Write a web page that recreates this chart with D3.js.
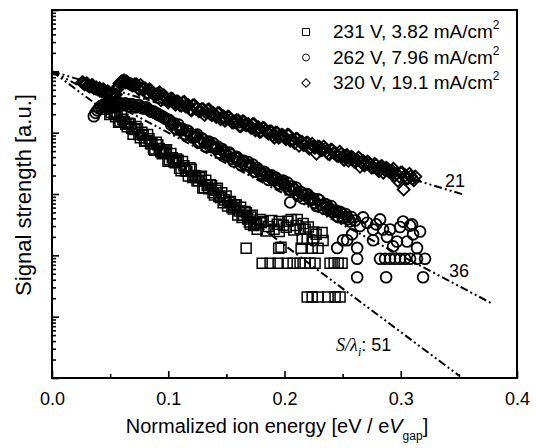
<!DOCTYPE html>
<html>
<head>
<meta charset="utf-8">
<script src="https://cdn.jsdelivr.net/npm/d3@7/dist/d3.min.js"></script>
<style>
	body { margin: 0; background: #fff; }
	svg { display: block; font-family: "Liberation Sans", Arial, sans-serif; }
</style>
</head>
<body>
<script>
// legend entries (order: square, circle, diamond)
var seriesLabels = ["231 V, 3.82 mA/cm", "262 V, 7.96 mA/cm", "320 V, 19.1 mA/cm"];
var xTicks = [0.0, 0.1, 0.2, 0.3, 0.4];
var xMinorTicks = [0.05, 0.15, 0.25, 0.35];
var yDecades = [1e-5, 1e-4, 1e-3, 1e-2, 1e-1, 1, 10];

// [normalized ion energy, signal strength a.u.]
var squares231 = [
	[0.0460,0.240],[0.0485,0.259],[0.0510,0.214],[0.0535,0.207],[0.0560,0.210],[0.0585,0.153],[0.0610,0.165],
	[0.0635,0.137],[0.0660,0.142],[0.0685,0.118],[0.0710,0.113],[0.0735,0.116],[0.0760,0.0829],[0.0785,0.0910],
	[0.0810,0.0740],[0.0835,0.0798],[0.0860,0.0661],[0.0885,0.0518],[0.0910,0.0637],[0.0935,0.0490],[0.0960,0.0481],
	[0.0985,0.0528],[0.1010,0.0362],[0.1035,0.0391],[0.1060,0.0324],[0.1085,0.0356],[0.1110,0.0240],[0.1135,0.0289],
	[0.1160,0.0236],[0.1185,0.0268],[0.1210,0.0185],[0.1235,0.0199],[0.1260,0.0165],[0.1285,0.0195],[0.1310,0.0127],
	[0.1335,0.0137],[0.1360,0.0142],[0.1385,0.0105],[0.1410,0.0115],[0.1435,0.00910],[0.1460,0.0105],[0.1485,0.00798],
	[0.1510,0.00637],[0.1535,0.00757],[0.1560,0.00569],[0.1585,0.00661],[0.1610,0.00528],[0.1635,0.00415],[0.1660,0.00518],
	[0.1685,0.00391],[0.1710,0.00421],[0.1735,0.00307],[0.1760,0.00331],
	[0.04725,0.28],[0.04975,0.198],[0.05225,0.256],[0.05475,0.181],[0.05725,0.148],[0.05975,0.192],[0.06225,0.151],
	[0.06475,0.125],[0.06725,0.138],[0.06975,0.094],[0.07225,0.126],[0.07475,0.093],[0.07725,0.102],[0.07975,0.0723],
	[0.08225,0.0935],[0.08475,0.0659],[0.08725,0.0542],[0.08975,0.0697],[0.09225,0.0553],[0.09475,0.0453],[0.09725,0.0503],
	[0.09975,0.0342],[0.10225,0.0458],[0.10475,0.0336],[0.10725,0.0372],[0.10975,0.0264],[0.11225,0.034],[0.11475,0.024],
	[0.11725,0.0197],[0.11975,0.0254],[0.12225,0.0201],[0.12475,0.0165],[0.12725,0.0184],[0.12975,0.0125],[0.13225,0.0167],
	[0.13475,0.0122],[0.13725,0.0137],[0.13975,0.0096],[0.14225,0.0124],[0.14475,0.00874],[0.14725,0.00718],[0.14975,0.0093],
	[0.15225,0.0073],[0.15475,0.00602],[0.15725,0.00666],[0.15975,0.00454],[0.16225,0.0061],[0.16475,0.00446],[0.16725,0.00495],
	[0.16975,0.00349],[0.17225,0.0045],[0.17475,0.00319],
	[0.1670,0.0013],[0.1706,0.0032],[0.1765,0.00265],[0.1790,0.00385],[0.1817,0.00356],[0.1860,0.00296],[0.1910,0.00265],
	[0.1938,0.0032],[0.1955,0.00356],[0.1970,0.00135],[0.1955,0.00245],[0.1950,0.0013],[0.2015,0.00286],[0.2057,0.00385],
	[0.2100,0.00307],[0.2110,0.00385],[0.2134,0.00275],[0.2143,0.0013],[0.2152,0.00183],[0.2178,0.00265],[0.2195,0.00183],
	[0.2238,0.0013],[0.2272,0.0022],[0.2289,0.0013],[0.2323,0.00235],[0.2332,0.00175],
	[0.1800,0.0034],[0.1840,0.0025],[0.1890,0.0037],[0.1990,0.0031],[0.2030,0.0036],[0.2080,0.0026],[0.2160,0.0033],
	[0.2205,0.0029],[0.2250,0.0024],
	[0.1808,0.00074],[0.1876,0.00074],[0.1945,0.00074],[0.2023,0.00074],[0.2074,0.00074],[0.2134,0.00074],[0.2177,0.00074],
	[0.2220,0.00074],[0.2263,0.00074],[0.2392,0.00074],[0.2427,0.00074],[0.2461,0.00074],[0.2495,0.00074],
	[0.2195,0.00021],[0.2238,0.00021],[0.2289,0.00021],[0.2375,0.00021],[0.2435,0.00021],[0.2478,0.00021]
];
var circles262 = [
	[0.036,0.185],[0.039,0.231],[0.042,0.268],[0.045,0.289],[0.048,0.259],[0.051,0.300],[0.054,0.279],[0.057,0.312],
	[0.060,0.289],[0.063,0.300],[0.066,0.268],[0.069,0.289],[0.072,0.259],[0.075,0.279],[0.078,0.249],[0.081,0.259],
	[0.084,0.231],[0.087,0.223],[0.090,0.207],[0.093,0.192],[0.096,0.178],[0.099,0.165],
	[0.0375,0.21],[0.0405,0.25],[0.0435,0.28],[0.0465,0.28],[0.0495,0.29],[0.0525,0.29],[0.0555,0.30],[0.0585,0.30],
	[0.0615,0.28],[0.0645,0.29],[0.0675,0.29],[0.0705,0.27],[0.0735,0.28],[0.0765,0.26],[0.0795,0.25],[0.0825,0.24],
	[0.0855,0.22],[0.0885,0.21],[0.0915,0.195],[0.0945,0.185],[0.0975,0.17],[0.1010,0.16],
	[0.1025,0.134],[0.1050,0.142],[0.1075,0.113],[0.1100,0.118],[0.1125,0.115],[0.1150,0.0928],[0.1175,0.105],
	[0.1200,0.0893],[0.1225,0.0860],[0.1250,0.0928],[0.1275,0.0713],[0.1300,0.0769],[0.1325,0.0591],[0.1350,0.0713],
	[0.1375,0.0613],[0.1400,0.0569],[0.1425,0.0591],[0.1450,0.0454],[0.1475,0.0508],[0.1500,0.0437],[0.1525,0.0472],
	[0.1550,0.0376],[0.1575,0.0391],[0.1600,0.0378],[0.1625,0.0300],[0.1650,0.0349],[0.1675,0.0298],[0.1700,0.0289],
	[0.1725,0.0302],[0.1750,0.0231],[0.1775,0.0249],[0.1800,0.0214],[0.1825,0.0231],[0.1850,0.0199],[0.1875,0.0192],
	[0.1900,0.0171],[0.1925,0.0185],[0.1950,0.0147],[0.1975,0.0159],[0.2000,0.0142],[0.2025,0.0153],[0.2050,0.0118],
	[0.2075,0.0122],[0.2100,0.0127],[0.2125,0.00928],[0.2150,0.0105],[0.2175,0.0095],[0.2200,0.00985],[0.2225,0.00798],
	[0.2250,0.0082],[0.2275,0.00637],[0.2300,0.0079],[0.2325,0.00661],[0.2350,0.00687],[0.2375,0.00548],[0.2400,0.00637],
	[0.2425,0.00508],[0.2450,0.00528],[0.2475,0.0051],[0.2500,0.00406],[0.2525,0.00472],[0.2550,0.00391],[0.2575,0.00421],
	[0.10375,0.14],[0.10625,0.118],[0.10875,0.135],[0.11125,0.109],[0.11375,0.0955],[0.11625,0.108],[0.11875,0.095],
	[0.12125,0.083],[0.12375,0.088],[0.12625,0.0687],[0.12875,0.081],[0.13125,0.0685],[0.13375,0.0697],[0.13625,0.0587],
	[0.13875,0.0668],[0.14125,0.0542],[0.14375,0.0476],[0.14625,0.054],[0.14875,0.0474],[0.15125,0.0413],[0.15375,0.0437],
	[0.15625,0.0341],[0.15875,0.0404],[0.16125,0.034],[0.16375,0.0344],[0.16625,0.0291],[0.16875,0.0331],[0.17125,0.0269],
	[0.17375,0.0236],[0.17625,0.0268],[0.17875,0.0235],[0.18125,0.0206],[0.18375,0.0216],[0.18625,0.0170],[0.18875,0.0201],
	[0.19125,0.0169],[0.19375,0.0173],[0.19625,0.0145],[0.19875,0.0166],[0.20125,0.0134],[0.20375,0.0118],[0.20625,0.0134],
	[0.20875,0.0117],[0.21125,0.0102],[0.21375,0.0108],[0.21625,0.00845],[0.21875,0.0100],[0.22125,0.00842],[0.22375,0.00857],
	[0.22625,0.0072],[0.22875,0.0082],[0.23125,0.00666],[0.23375,0.00584],[0.23625,0.00664],[0.23875,0.00582],[0.24125,0.00508],
	[0.24375,0.00538],[0.24625,0.0042],[0.24875,0.00497],[0.25125,0.00418],[0.25375,0.00426],[0.25625,0.00358],
	[0.2049,0.0073],[0.2248,0.00176],[0.2453,0.00132],[0.2504,0.00176],[0.2539,0.00176],[0.2581,0.0022],[0.2607,0.0037],
	[0.2625,0.00132],[0.2625,0.00088],[0.2625,0.00044],[0.2650,0.0030],[0.2676,0.00415],[0.2711,0.0034],[0.2762,0.00264],
	[0.2762,0.00176],[0.2788,0.0032],[0.2822,0.00385],[0.2822,0.00088],[0.2848,0.00264],[0.2865,0.00088],[0.2874,0.00044],
	[0.2882,0.0020],[0.2908,0.00264],[0.2908,0.00088],[0.2934,0.0014],[0.2951,0.00088],[0.2968,0.00168],[0.2994,0.0029],
	[0.2994,0.00088],[0.3020,0.00355],[0.3037,0.00088],[0.3054,0.00168],[0.3080,0.00305],[0.3080,0.00088],[0.3097,0.0032],
	[0.3106,0.0022],[0.3140,0.00132],[0.3140,0.00088],[0.3166,0.00245],[0.3192,0.00044],[0.3209,0.00088]
];
var diamonds320 = [
	[0.026,0.661],[0.028,0.613],[0.030,0.637],[0.032,0.569],[0.034,0.591],[0.036,0.528],[0.038,0.548],[0.040,0.508],
	[0.042,0.490],[0.044,0.508],[0.046,0.454],[0.048,0.472],[0.050,0.421],[0.052,0.437],[0.054,0.406],[0.056,0.508],
	[0.058,0.637],[0.060,0.687],[0.062,0.713],[0.064,0.687],[0.066,0.637],[0.068,0.613],
	[0.027,0.65],[0.029,0.62],[0.031,0.59],[0.033,0.57],[0.035,0.59],[0.037,0.53],[0.039,0.51],[0.041,0.53],
	[0.043,0.47],[0.045,0.49],[0.047,0.44],[0.049,0.45],[0.051,0.40],[0.053,0.39],[0.055,0.42],[0.057,0.57],
	[0.059,0.66],[0.061,0.69],[0.063,0.66],[0.065,0.66],[0.067,0.62],[0.069,0.59],
	[0.0700,0.591],[0.0725,0.613],[0.0750,0.508],[0.0775,0.528],[0.0800,0.53],[0.0825,0.437],[0.0850,0.490],[0.0875,0.421],
	[0.0900,0.42],[0.0925,0.454],[0.0950,0.362],[0.0975,0.376],[0.1000,0.312],[0.1025,0.362],[0.1050,0.312],[0.1075,0.324],
	[0.1100,0.279],[0.1125,0.31],[0.1150,0.268],[0.1175,0.279],[0.1200,0.231],[0.1225,0.28],[0.1250,0.249],[0.1275,0.223],
	[0.1300,0.240],[0.1325,0.214],[0.1350,0.24],[0.1375,0.192],[0.1400,0.199],[0.1425,0.207],[0.1450,0.165],[0.1475,0.185],
	[0.1500,0.166],[0.1525,0.178],[0.1550,0.147],[0.1575,0.153],[0.1600,0.159],[0.1625,0.127],[0.1650,0.152],[0.1675,0.132],
	[0.1700,0.131],[0.1725,0.137],[0.1750,0.109],[0.1775,0.122],[0.1800,0.105],[0.1825,0.118],[0.1850,0.101],[0.1875,0.105],
	[0.1900,0.0900],[0.1925,0.101],[0.1950,0.0825],[0.1975,0.0925],[0.2000,0.0826],[0.2025,0.0928],[0.2050,0.0740],
	[0.2075,0.0769],[0.2100,0.0798],[0.2125,0.0613],[0.2150,0.0713],[0.2175,0.0637],[0.2200,0.0687],[0.2225,0.0569],
	[0.2250,0.0591],[0.2275,0.0454],[0.2300,0.059],[0.2325,0.0528],[0.2350,0.0548],[0.2375,0.0454],[0.2400,0.053],
	[0.2425,0.0472],[0.2450,0.0421],[0.2475,0.0490],[0.2500,0.0406],[0.2525,0.0421],[0.2550,0.0349],[0.2575,0.0406],
	[0.2600,0.0336],[0.2625,0.0362],[0.2650,0.0279],[0.2675,0.0349],[0.2700,0.0312],[0.2725,0.0324],[0.2750,0.0268],
	[0.2775,0.031],[0.2800,0.0259],[0.2825,0.0279],[0.2850,0.0223],[0.2875,0.0268],[0.2900,0.0231],[0.2925,0.0240],
	[0.2950,0.0199],[0.2975,0.0165],[0.3000,0.0223],[0.3025,0.0118],[0.3050,0.0178],[0.3075,0.0214],[0.3100,0.0178],
	[0.3125,0.0192],
	[0.07125,0.613],[0.07375,0.528],[0.07625,0.60],[0.07875,0.497],[0.08125,0.44],[0.08375,0.508],[0.08625,0.454],
	[0.08875,0.40],[0.09125,0.43],[0.09375,0.338],[0.09625,0.406],[0.09875,0.346],[0.10125,0.343],[0.10375,0.355],
	[0.10625,0.285],[0.10875,0.32],[0.11125,0.276],[0.11375,0.32],[0.11625,0.267],[0.11875,0.239],[0.12125,0.279],
	[0.12375,0.25],[0.12625,0.224],[0.12875,0.242],[0.13125,0.194],[0.13375,0.234],[0.13625,0.202],[0.13875,0.21],
	[0.14125,0.181],[0.14375,0.21],[0.14625,0.176],[0.14875,0.157],[0.15125,0.184],[0.15375,0.164],[0.15625,0.147],
	[0.15875,0.159],[0.16125,0.128],[0.16375,0.153],[0.16625,0.133],[0.16875,0.138],[0.17125,0.119],[0.17375,0.138],
	[0.17625,0.115],[0.17875,0.103],[0.18125,0.12],[0.18375,0.108],[0.18625,0.0963],[0.18875,0.104],[0.19125,0.083],
	[0.19375,0.1],[0.19625,0.087],[0.19875,0.091],[0.20125,0.078],[0.20375,0.0912],[0.20625,0.0757],[0.20875,0.0677],
	[0.21125,0.079],[0.21375,0.0708],[0.21625,0.0632],[0.21875,0.0685],[0.22125,0.0548],[0.22375,0.0661],[0.22625,0.0569],
	[0.22875,0.0595],[0.23125,0.0512],[0.23375,0.0597],[0.23625,0.0497],[0.23875,0.0444],[0.24125,0.0518],[0.24375,0.0465],
	[0.24625,0.0415],[0.24875,0.0449],[0.25125,0.036],[0.25375,0.0434],[0.25625,0.0375],[0.25875,0.0391],[0.26125,0.0336],
	[0.26375,0.0392],[0.26625,0.0326],[0.26875,0.0291],[0.27125,0.034],[0.27375,0.0305],[0.27625,0.0272],[0.27875,0.0295],
	[0.28125,0.0236],[0.28375,0.0286],[0.28625,0.0246],[0.28875,0.0257],[0.29125,0.0221],[0.29375,0.0257],[0.29625,0.0214],
	[0.29875,0.0192],[0.30125,0.0224],[0.30375,0.0200],[0.30625,0.0179],[0.30875,0.0194],[0.31125,0.0167]
];
// exponential fits, S/lambda_i labels and end points
var fitLabels = ["21", "36", "51"];
var fitLines = [
	[[0, 1], [0.354, 0.0098]],
	[[0, 1], [0.3795, 1.6e-4]],
	[[0, 1], [0.350, 1.1e-5]]
];

var width = 536, height = 448;
var x = d3.scaleLinear().domain([0, 0.4]).range([52, 517]);
var y = d3.scaleLog().domain([1e-5, 10]).range([378, 10]);

var svg = d3.select("body").append("svg")
	.attr("width", width)
	.attr("height", height);

// minor log ticks 2..9 in each decade
var yMinor = [];
yDecades.slice(0, -1).forEach(function(d) {
	for (var k = 2; k <= 9; k++) yMinor.push(d * k);
});

var xAxis = d3.axisBottom(x).tickValues(xTicks).tickFormat(d3.format(".1f"))
	.tickSizeInner(-7).tickSizeOuter(0).tickPadding(14);
var gx = svg.append("g").attr("transform", "translate(0,378)").call(xAxis);
gx.selectAll("text").attr("font-size", 18).attr("font-family", "Liberation Sans, Arial, sans-serif").attr("fill", "#000");
svg.append("g").attr("transform", "translate(0,378)")
	.call(d3.axisBottom(x).tickValues(xMinorTicks).tickFormat("").tickSizeInner(-4).tickSizeOuter(0));

svg.append("g").attr("transform", "translate(52,0)")
	.call(d3.axisLeft(y).tickValues(yDecades).tickFormat("").tickSizeInner(-7).tickSizeOuter(0));
svg.append("g").attr("transform", "translate(52,0)")
	.call(d3.axisLeft(y).tickValues(yMinor).tickFormat("").tickSizeInner(-4).tickSizeOuter(0));

svg.selectAll(".domain").remove();
svg.selectAll(".tick line").attr("stroke", "#000").attr("stroke-width", 1.6);

svg.append("rect")
	.attr("x", x(0)).attr("y", y(10))
	.attr("width", x(0.4) - x(0)).attr("height", y(1e-5) - y(10))
	.attr("fill", "none").attr("stroke", "#000").attr("stroke-width", 2);

// fit lines
var line = d3.line().x(function(d) { return x(d[0]); }).y(function(d) { return y(d[1]); });
svg.selectAll(".fit").data(fitLines).enter().append("path")
	.attr("class", "fit")
	.attr("d", line)
	.attr("fill", "none")
	.attr("stroke", "#000")
	.attr("stroke-width", 2)
	.attr("stroke-dasharray", "8,3,2,3,2,3");

// markers
var sq = d3.symbol().type(d3.symbolSquare).size(100);
var ci = d3.symbol().type(d3.symbolCircle).size(92);
var di = d3.symbol().type(d3.symbolSquare).size(72);

var drawSeries = function(data, sym, rot, sw) {
	svg.append("g").selectAll("path").data(data).enter().append("path")
		.attr("d", sym)
		.attr("transform", function(d) {
			return "translate(" + x(d[0]) + "," + y(d[1]) + ")" + (rot ? " rotate(45)" : "");
		})
		.attr("fill", "none")
		.attr("stroke", "#000")
		.attr("stroke-width", sw);
};
drawSeries(squares231, sq, false, 1.5);
drawSeries(circles262, ci, false, 1.8);
drawSeries(diamonds320, di, true, 1.8);

// fit annotations
svg.append("text").attr("x", x(0.338)).attr("y", y(0.0130))
	.attr("font-size", 18).text(fitLabels[0]);
svg.append("text").attr("x", x(0.3416)).attr("y", y(4.5e-4))
	.attr("font-size", 18).text(fitLabels[1]);
var lab = svg.append("text").attr("x", x(0.2444)).attr("y", y(2.8e-5)).attr("font-size", 18);
lab.append("tspan").attr("font-family", "Liberation Serif, Times New Roman, serif")
	.attr("font-style", "italic").text("S/\u03bb");
lab.append("tspan").attr("font-family", "Liberation Serif, Times New Roman, serif")
	.attr("font-style", "italic").attr("font-size", 12).attr("dy", 5).text("i");
lab.append("tspan").attr("dy", -5).text(": " + fitLabels[2]);

// legend
var legSyms = [
	d3.symbol().type(d3.symbolSquare).size(49),
	d3.symbol().type(d3.symbolCircle).size(38),
	d3.symbol().type(d3.symbolSquare).size(36)
];
var leg = svg.append("g");
seriesLabels.forEach(function(s, i) {
	var ly = 32 + i * 25.5;
	leg.append("path").attr("d", legSyms[i])
		.attr("transform", "translate(306," + ly + ")" + (i == 2 ? " rotate(45)" : ""))
		.attr("fill", "none").attr("stroke", "#000").attr("stroke-width", 1);
	var t = leg.append("text").attr("x", 333).attr("y", ly + 6).attr("font-size", 19).text(s);
	t.append("tspan").attr("font-size", 12).attr("dy", -9).text("2");
});

// axis titles
var xt = svg.append("text").attr("x", 277).attr("y", 433)
	.attr("text-anchor", "middle").attr("font-size", 20);
xt.append("tspan").text("Normalized ion energy [eV / e");
xt.append("tspan").attr("font-style", "italic").text("V");
xt.append("tspan").attr("font-size", 12).attr("dy", 7).text("gap");
xt.append("tspan").attr("dy", -7).text("]");

svg.append("text")
	.attr("transform", "translate(31,195) rotate(-90)")
	.attr("text-anchor", "middle")
	.attr("font-size", 22)
	.text("Signal strength [a.u.]");
</script>
</body>
</html>
